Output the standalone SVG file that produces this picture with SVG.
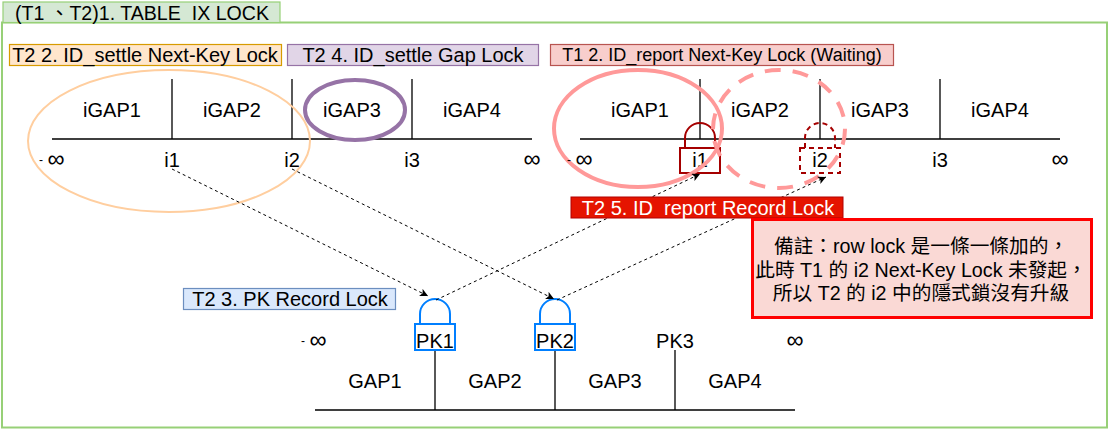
<svg xmlns="http://www.w3.org/2000/svg" width="1112" height="433" viewBox="0 0 1112 433">
<style>
text{font-family:"Liberation Sans","Noto Sans CJK TC",sans-serif;font-size:20px;fill:#000;text-anchor:middle;dominant-baseline:central}
.ax{stroke:#000;stroke-width:1.3;fill:none}
.lb{stroke-width:1.2}
.inf{font-size:24px}
.neg{font-size:12px}
.note{font-size:19.700px}
.dash{stroke:#000;stroke-width:1;stroke-dasharray:3 3;fill:none;marker-end:url(#a)}
.blue{stroke:#007FFF;stroke-width:2;fill:none}
.red{stroke:#A50000;stroke-width:2;fill:none}
</style>
<defs><marker id="a" markerUnits="userSpaceOnUse" markerWidth="10" markerHeight="10" refX="8" refY="4" orient="auto"><path d="M0 0L8 4L0 8L2 4Z" fill="#000"/></marker></defs>
<g id="frame"><rect x="2" y="22.500" width="1105" height="405" fill="#fff" stroke="#97D077" stroke-width="2"/></g>
<g id="title"><rect x="3" y="2" width="277" height="20.500" fill="#D5E8D4" stroke="#97D077" stroke-width="1.200"/><text x="142" y="13" style="font-size:19.600px">(T1 、T2)1. TABLE&#160; IX LOCK</text></g>
<g id="l-t2-2"><rect class="lb" x="9.500" y="44.500" width="272" height="21" fill="#FFE6CC" stroke="#D79B00"/><text x="145" y="55">T2 2. ID_settle Next-Key Lock</text></g>
<g id="l-t2-4"><rect class="lb" x="287.500" y="44.500" width="251" height="21" fill="#E1D5E7" stroke="#9673A6"/><text x="413" y="55">T2 4. ID_settle Gap Lock</text></g>
<g id="l-t1-2"><rect class="lb" x="550.500" y="44.500" width="343" height="21" fill="#F8CECC" stroke="#B85450"/><text x="722" y="55" style="font-size:18px">T1 2. ID_report Next-Key Lock (Waiting)</text></g>
<g id="left-index">
<path class="ax" d="M52 139H532M172 79V139M292 79V139M412 79V139"/>
<text x="112" y="110">iGAP1</text><text x="232" y="110">iGAP2</text><text x="352" y="110">iGAP3</text><text x="472" y="110">iGAP4</text>
<text class="neg" x="41" y="160">-</text><text class="inf" x="56" y="158">∞</text><text x="172" y="160">i1</text><text x="292" y="160">i2</text><text x="412" y="160">i3</text><text class="inf" x="532" y="158">∞</text>
<ellipse cx="169" cy="141" rx="141" ry="71" fill="none" stroke="#FFCE9F" stroke-width="2"/>
<ellipse cx="355" cy="110" rx="50" ry="30" fill="none" stroke="#9673A6" stroke-width="4"/>
</g>
<g id="right-index">
<path class="ax" d="M580 139H1060M700 79V139M820 79V139M940 79V139"/>
<text x="640" y="110">iGAP1</text><text x="760" y="110">iGAP2</text><text x="880" y="110">iGAP3</text><text x="1000" y="110">iGAP4</text>
<text class="inf" x="584" y="158">∞</text><text x="700" y="160">i1</text><text x="820" y="160">i2</text><text x="940" y="160">i3</text><text class="inf" x="1060" y="158">∞</text>
<rect class="red" x="680" y="148" width="40" height="25"/><path class="red" d="M685 148V138A15 15 0 0 1 715 138V148"/>
<rect class="red" x="800" y="148" width="40" height="25" stroke-dasharray="5 4"/><path class="red" d="M805 148V138A15 15 0 0 1 835 138V148" stroke-dasharray="5 4"/>
<ellipse cx="638" cy="128.500" rx="84" ry="58.500" fill="none" stroke="#FF9999" stroke-width="4"/>
<ellipse cx="779" cy="129" rx="66" ry="59" fill="none" stroke="#FF9999" stroke-width="4" stroke-dasharray="16 12"/>
<text class="neg" x="569" y="160">-</text>
</g>
<g id="pk-index">
<path class="ax" d="M315 410H795M435 350V410M555 350V410M675 350V410"/>
<text x="375" y="381">GAP1</text><text x="495" y="381">GAP2</text><text x="615" y="381">GAP3</text><text x="735" y="381">GAP4</text>
<text class="neg" x="303" y="341">-</text><text class="inf" x="318" y="339">∞</text><text x="435" y="341">PK1</text><text x="555" y="341">PK2</text><text x="675" y="341">PK3</text><text class="inf" x="795" y="339">∞</text>
<rect class="blue" x="415" y="324" width="40" height="26"/><path class="blue" d="M420 323V314A15 15 0 0 1 450 314V323"/>
<rect class="blue" x="535" y="324" width="40" height="26"/><path class="blue" d="M540 323V314A15 15 0 0 1 570 314V323"/>
</g>
<g id="connectors">
<path class="dash" d="M172 169L428 296"/>
<path class="dash" d="M292 169L554 299"/>
<path class="dash" d="M436 300L700 174"/>
<path class="dash" d="M557 300L826 177"/>
</g>
<g id="l-t2-5"><rect x="571" y="197" width="272" height="21" fill="#E51400" stroke="#B20000"/><text x="708" y="208" style="fill:#fff">T2 5. ID&#160; report Record Lock</text></g>
<g id="l-t2-3"><rect class="lb" x="183.500" y="288.500" width="212" height="21" fill="#DAE8FC" stroke="#6C8EBF"/><text x="290" y="299">T2 3. PK Record Lock</text></g>
<g id="note"><rect x="752.500" y="219.500" width="339" height="98" fill="#FAD9D5" stroke="#FF0000" stroke-width="3"/>
<text class="note" x="921" y="246">備註：row lock 是一條一條加的，</text>
<text class="note" x="921" y="270">此時 T1 的 i2 Next-Key Lock 未發起，</text>
<text class="note" x="921" y="293">所以 T2 的 i2 中的隱式鎖沒有升級</text></g>
</svg>
